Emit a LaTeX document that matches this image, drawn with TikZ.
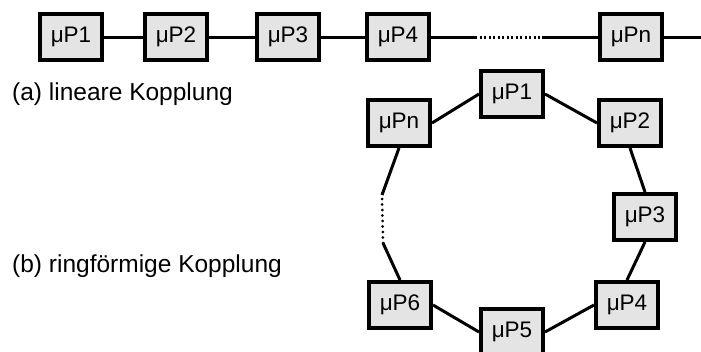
\documentclass[tikz,border=0pt]{standalone}
\usepackage{fontspec}
\setmainfont{Liberation Sans}
\definecolor{boxfill}{HTML}{E4E4E4}
\tikzset{
  up/.style={draw=black, line width=4pt, fill=boxfill, minimum width=62pt, minimum height=46pt, inner sep=0pt, font=\fontsize{22.5}{24}\selectfont},
  conn/.style={line width=3pt},
  dots/.style={line width=3pt, dash pattern=on 2pt off 2.5pt},
  lbl/.style={anchor=base west, inner sep=0pt, font=\fontsize{24.5}{27}\selectfont}
}
\begin{document}
\begin{tikzpicture}[x=1pt,y=-1pt]
\useasboundingbox (0,0) rectangle (701,351);
% linear
\node[up] (a1) at (71,37) {μP1};
\node[up] (a2) at (176,37) {μP2};
\node[up] (a3) at (288,37) {μP3};
\node[up] (a4) at (398,37) {μP4};
\node[up] (an) at (631,37) {μPn};
\coordinate (ad1) at (475,37);
\coordinate (ad2) at (542,37);
\coordinate (aend) at (702,37);
\draw[conn] (a1) -- (a2);
\draw[conn] (a2) -- (a3);
\draw[conn] (a3) -- (a4);
\draw[conn] (a4) -- (ad1);
\draw[dots] (ad1) -- (ad2);
\draw[conn] (ad2) -- (an);
\draw[conn] (an) -- (aend);
\node[lbl] (la) at (12,100) {(a) lineare Kopplung};
% ring
\node[up] (r1) at (512,94) {μP1};
\node[up] (r2) at (630,123) {μP2};
\node[up] (r3) at (645,217) {μP3};
\node[up] (r4) at (627,305) {μP4};
\node[up] (r5) at (512,332) {μP5};
\node[up] (r6) at (400,305) {μP6};
\node[up] (rn) at (399,123) {μPn};
\coordinate (rd1) at (383,243);
\coordinate (rd2) at (382,195);
\draw[conn] (rn.east) -- (r1.west);
\draw[conn] (r1.east) -- (r2.west);
\draw[conn] (r2.south) -- (r3.north);
\draw[conn] (r3.south) -- (r4.north);
\draw[conn] (r4.west) -- (r5.east);
\draw[conn] (r5.west) -- (r6.east);
\draw[conn] (r6.north) -- (rd1);
\draw[dots, line cap=round, dash pattern=on 0pt off 5.5pt] (rd1) -- (rd2);
\draw[conn] (rd2) -- (rn.south);
\node[lbl] (lb) at (12,272) {(b) ringförmige Kopplung};
\end{tikzpicture}
\end{document}
